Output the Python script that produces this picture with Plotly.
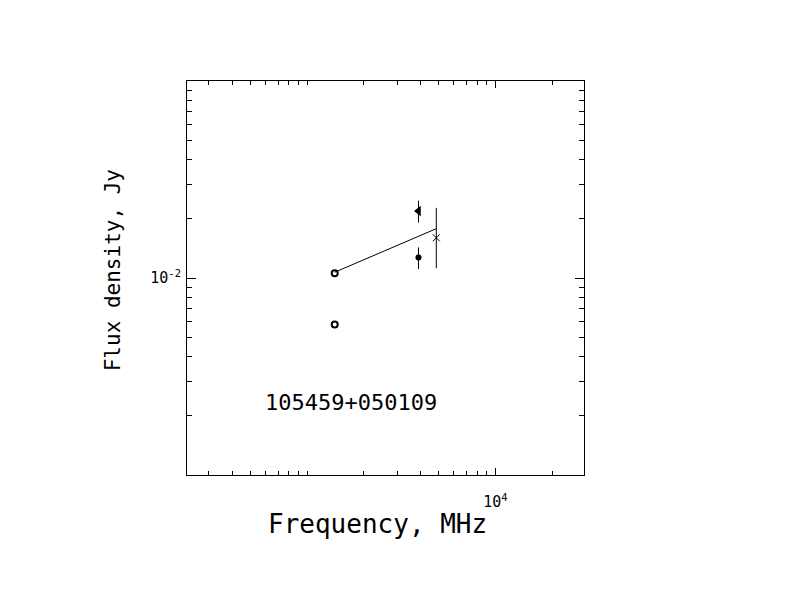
import plotly.graph_objects as go

# ---- data ----
circ_freq = [1400, 1400]
circ_flux = [0.01056, 0.0058]

tri_freq = [3900]
tri_flux = [0.0219]
tri_err = [0.0028]

dot_freq = [3900]
dot_flux = [0.0127]
dot_err = [0.0016]

x_freq = [4850]
x_flux = [0.0160]
x_err_plus = [0.0067]
x_err_minus = [0.0048]

fit_freq = [1400, 4850]
fit_flux = [0.0107, 0.0178]

source_name = "105459+050109"
x_title = "Frequency, MHz"
y_title = "Flux density, Jy"

x_major = [10000]
x_major_text = ["10<sup>4</sup>"]
x_minor = [300, 400, 500, 600, 700, 800, 900, 1000, 2000, 3000, 4000, 5000,
           6000, 7000, 8000, 9000, 20000]
y_major = [0.01]
y_major_text = ["10<sup>-2</sup>"]
y_minor = [0.002, 0.003, 0.004, 0.005, 0.006, 0.007, 0.008, 0.009,
           0.02, 0.03, 0.04, 0.05, 0.06, 0.07, 0.08, 0.09]

FONT = "DejaVu Sans Mono"
BLACK = "black"

fig = go.Figure()

fig.add_trace(go.Scatter(x=fit_freq, y=fit_flux, mode="lines",
                         line=dict(color=BLACK, width=1), hoverinfo="skip"))
fig.add_trace(go.Scatter(x=circ_freq, y=circ_flux, mode="markers",
                         marker=dict(symbol="circle-open", size=6, color=BLACK,
                                     line=dict(width=2, color=BLACK))))
fig.add_trace(go.Scatter(x=tri_freq, y=tri_flux, mode="markers",
                         marker=dict(symbol="triangle-left", size=9, color=BLACK),
                         error_y=dict(type="data", array=tri_err, color=BLACK,
                                      thickness=1, width=0)))
fig.add_trace(go.Scatter(x=dot_freq, y=dot_flux, mode="markers",
                         marker=dict(symbol="circle", size=6, color=BLACK),
                         error_y=dict(type="data", array=dot_err, color=BLACK,
                                      thickness=1, width=0)))
fig.add_trace(go.Scatter(x=x_freq, y=x_flux, mode="markers",
                         marker=dict(symbol="x-thin-open", size=7, color=BLACK,
                                     line=dict(width=1, color=BLACK)),
                         error_y=dict(type="data", symmetric=False,
                                      array=x_err_plus, arrayminus=x_err_minus,
                                      color=BLACK, thickness=1, width=0)))

axis_common = dict(
    showline=True, linecolor=BLACK, linewidth=1, mirror="allticks",
    ticks="inside", tickcolor=BLACK, tickwidth=1, showgrid=False, zeroline=False,
    tickfont=dict(family=FONT, size=15, color=BLACK),
)

fig.update_xaxes(type="log", range=[2.3615, 4.4703],
                 tickmode="array", tickvals=x_major, ticktext=x_major_text,
                 ticklen=7, ticklabelstandoff=13,
                 minor=dict(tickmode="array", tickvals=x_minor, ticks="inside",
                            ticklen=4, tickcolor=BLACK, tickwidth=1, showgrid=False),
                 **axis_common)
fig.update_yaxes(type="log", range=[-3, -1],
                 tickmode="array", tickvals=y_major, ticktext=y_major_text,
                 ticklen=9, ticklabelstandoff=2,
                 minor=dict(tickmode="array", tickvals=y_minor, ticks="inside",
                            ticklen=5, tickcolor=BLACK, tickwidth=1, showgrid=False),
                 **axis_common)

fig.add_annotation(text=x_title, xref="paper", yref="paper", x=0.479, y=-0.124,
                   showarrow=False, xanchor="center", yanchor="middle",
                   font=dict(family=FONT, size=26, color=BLACK))
fig.add_annotation(text=y_title, xref="paper", yref="paper", x=-0.186, y=0.52,
                   showarrow=False, xanchor="center", yanchor="middle", textangle=-90,
                   font=dict(family=FONT, size=21, color=BLACK))
fig.add_annotation(text=source_name, xref="paper", yref="paper", x=0.413, y=0.183,
                   showarrow=False, xanchor="center", yanchor="middle",
                   font=dict(family=FONT, size=22, color=BLACK))

fig.update_layout(width=792, height=612, showlegend=False,
                  paper_bgcolor="white", plot_bgcolor="white",
                  margin=dict(l=179, r=216, t=73, b=145))

fig.write_html("out.html")
